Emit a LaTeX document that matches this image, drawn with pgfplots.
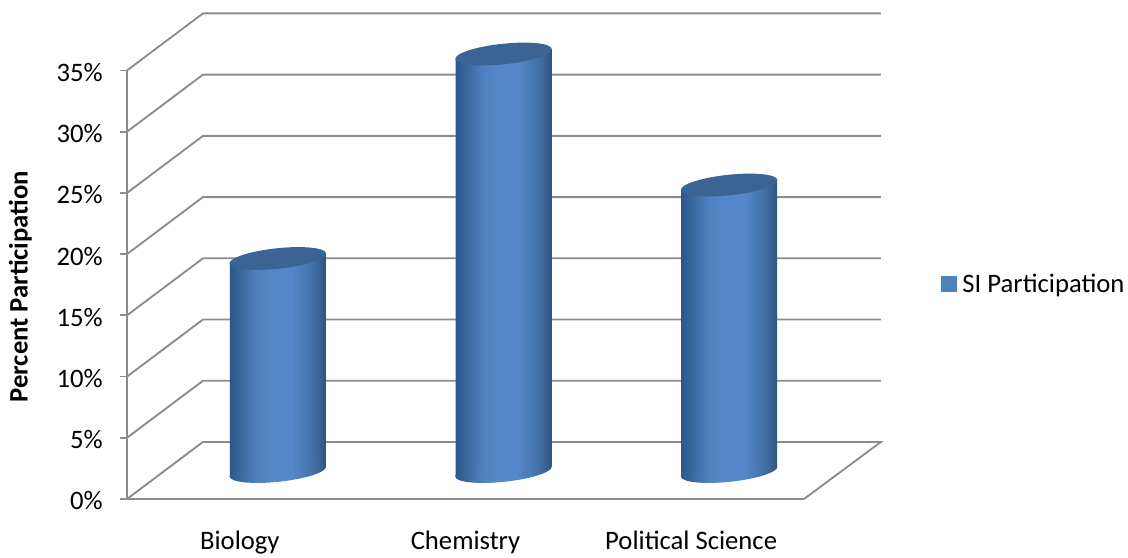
\documentclass[border=0pt]{standalone}
\usepackage{pgfplots}
\pgfplotsset{compat=1.18}
\usepackage{fontspec}
\setmainfont{Carlito}
\definecolor{gridc}{HTML}{8C8C8C}
\definecolor{c0}{HTML}{2C5788}
\definecolor{c1}{HTML}{3A699F}
\definecolor{c2}{HTML}{4F80BE}
\definecolor{cm}{HTML}{5588CA}
\definecolor{c3}{HTML}{4A7AB5}
\definecolor{c4}{HTML}{3E6A9E}
\definecolor{c5}{HTML}{2F5478}
\definecolor{ctop}{HTML}{3B6494}
\definecolor{leg}{HTML}{4F81BD}
\pgfdeclarehorizontalshading{cylsh}{100bp}{color(0bp)=(c0); color(25bp)=(c0); color(31bp)=(c1); color(39bp)=(c2); color(47bp)=(cm); color(57bp)=(cm); color(64bp)=(c3); color(70bp)=(c4); color(75bp)=(c5); color(100bp)=(c5)}
\pgfdeclareplotmark{cyltop}{%
  \pgftransformrotate{6}%
  \pgfsetfillcolor{ctop}%
  \pgfpathellipse{\pgfpointorigin}{\pgfqpoint{36.4pt}{0pt}}{\pgfqpoint{0pt}{7.7pt}}%
  \pgfusepathqfill}
\pgfdeclareplotmark{cylbot}{%
  \pgftransformrotate{6}%
  \pgfpathellipse{\pgfpointorigin}{\pgfqpoint{36.4pt}{0pt}}{\pgfqpoint{0pt}{7.7pt}}%
  \pgfshadepath{cylsh}{0}\pgfusepath{discard}}
\pgfplotsset{
  wall/.style={gridc,line width=1.4pt,forget plot,line join=miter},
  depth/.style={xshift=28.5pt,yshift=20.6pt,forget plot},
  cyl/.style={ybar,bar width=72pt,bar shift=0pt,draw=none,shade,shading=cylsh,forget plot,xshift=28.5pt,yshift=#1,yslant=0.105},
}
\begin{document}
\begin{tikzpicture}[x=1pt,y=1pt]
\useasboundingbox (0,0) rectangle (846pt,417.75pt);
\begin{axis}[
  at={(95.25pt,43.5pt)},anchor=south west,
  scale only axis,width=507.75pt,height=321.4pt,
  xmin=0,xmax=3,ymin=0,ymax=35,clip=false,
  axis x line*=bottom,axis y line*=left,
  axis line style={gridc,line width=1.4pt,-},
  xtick={0.5,1.5,2.5},
  xticklabels={Biology,Chemistry,Political Science},
  ytick={0,5,10,15,20,25,30,35},
  yticklabels={0\%,5\%,10\%,15\%,20\%,25\%,30\%,35\%},
  major tick style={gridc,line width=1.4pt},
  xtick style={draw=none},
  ytick align=outside,major tick length=5.25pt,
  yticklabel style={xshift=-9.5pt,yshift=-1.5pt,font=\fontsize{20}{24}\selectfont,black},
  xticklabel style={yshift=-38pt,anchor=base,text height=0pt,font=\fontsize{20}{24}\selectfont,black},
  ylabel={Percent Participation},
  every axis y label/.style={at={(axis description cs:-0.1575,0.4955)},rotate=90,anchor=center,font=\fontsize{20}{24}\selectfont\bfseries},
  legend style={draw=none,fill=none,at={(axis description cs:1.2024,0.502)},anchor=west,inner sep=0pt,
    font=\fontsize{20}{24}\selectfont},
]
% walls and floor
\addplot[wall] coordinates {(0,0)(0.3368,4.66)(3.341,4.66)(3,0)};
\addplot[wall] coordinates {(0,5)(0.3368,9.66)(3.341,9.66)};
\addplot[wall] coordinates {(0,10)(0.3368,14.66)(3.341,14.66)};
\addplot[wall] coordinates {(0,15)(0.3368,19.66)(3.341,19.66)};
\addplot[wall] coordinates {(0,20)(0.3368,24.66)(3.341,24.66)};
\addplot[wall] coordinates {(0,25)(0.3368,29.66)(3.341,29.66)};
\addplot[wall] coordinates {(0,30)(0.3368,34.66)(3.341,34.66)};
\addplot[wall] coordinates {(0,35)(0.3368,39.66)(3.341,39.66)};
% bottoms
\addplot[only marks,mark=cylbot,depth] coordinates {(0.5,0)(1.5,0)(2.5,0)};
% bodies
\addplot[cyl=11.72pt] coordinates {(0.5,17.4)};
\addplot[cyl=-6.06pt] coordinates {(1.5,34.1)};
\addplot[cyl=-23.84pt] coordinates {(2.5,23.4)};
% tops
\addplot[only marks,mark=cyltop,depth] coordinates {(0.5,17.4)(1.5,34.1)(2.5,23.4)};
\addlegendimage{legend image code/.code={\fill[leg] (0pt,-5.6pt) rectangle (11.25pt,5.6pt);\path (13.5pt,0pt);}}
\addlegendentry{SI Participation}
\end{axis}
\end{tikzpicture}
\end{document}
